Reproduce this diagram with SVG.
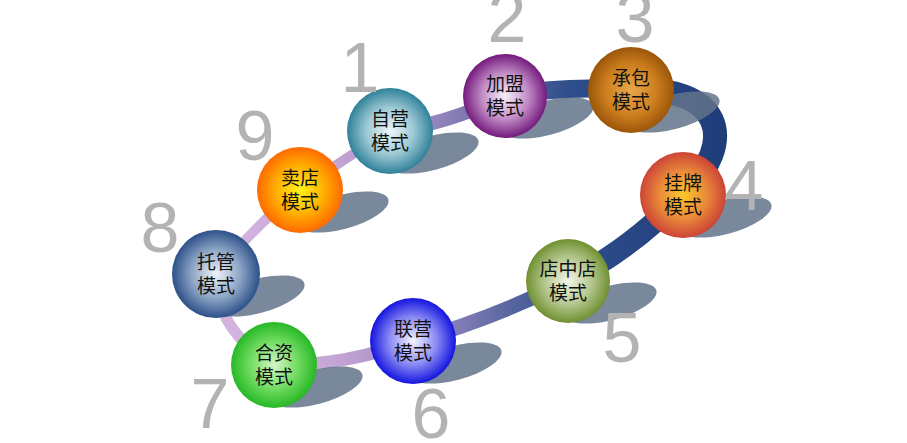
<svg xmlns="http://www.w3.org/2000/svg" width="907" height="443" viewBox="0 0 907 443">
<defs>
<linearGradient id="band" gradientUnits="userSpaceOnUse" x1="200" y1="0" x2="730" y2="0">
<stop offset="0" stop-color="#d8b8e2"/>
<stop offset="0.26" stop-color="#c4a4d4"/>
<stop offset="0.47" stop-color="#8a80b8"/>
<stop offset="0.62" stop-color="#4a5e98"/>
<stop offset="0.7" stop-color="#2e4d8b"/>
<stop offset="1" stop-color="#1d3c78"/>
</linearGradient>
<radialGradient id="g1" cx="0.5" cy="0.5" r="0.5"><stop offset="0" stop-color="#eef6f8"/><stop offset="0.55" stop-color="#9cc8d4"/><stop offset="1" stop-color="#2f8199"/></radialGradient>
<radialGradient id="g2" cx="0.5" cy="0.5" r="0.5"><stop offset="0" stop-color="#f6eef6"/><stop offset="0.55" stop-color="#c28cc6"/><stop offset="1" stop-color="#731a7c"/></radialGradient>
<radialGradient id="g3" cx="0.5" cy="0.5" r="0.5"><stop offset="0" stop-color="#e9a84a"/><stop offset="0.6" stop-color="#cd7e1e"/><stop offset="1" stop-color="#9a560a"/></radialGradient>
<radialGradient id="g4" cx="0.5" cy="0.5" r="0.5"><stop offset="0" stop-color="#f8c82a"/><stop offset="0.55" stop-color="#ea8a3a"/><stop offset="1" stop-color="#cc4436"/></radialGradient>
<radialGradient id="g5" cx="0.5" cy="0.5" r="0.5"><stop offset="0" stop-color="#f2f4e8"/><stop offset="0.55" stop-color="#b6c890"/><stop offset="1" stop-color="#6f9030"/></radialGradient>
<radialGradient id="g6" cx="0.5" cy="0.5" r="0.5"><stop offset="0" stop-color="#f4f4ff"/><stop offset="0.55" stop-color="#8a8af4"/><stop offset="1" stop-color="#1414e0"/></radialGradient>
<radialGradient id="g7" cx="0.5" cy="0.5" r="0.5"><stop offset="0" stop-color="#d4f6c8"/><stop offset="0.55" stop-color="#72dc62"/><stop offset="1" stop-color="#26b826"/></radialGradient>
<radialGradient id="g8" cx="0.5" cy="0.5" r="0.5"><stop offset="0" stop-color="#eef2f8"/><stop offset="0.55" stop-color="#8ea6c6"/><stop offset="1" stop-color="#2c5088"/></radialGradient>
<radialGradient id="g9" cx="0.5" cy="0.5" r="0.5"><stop offset="0" stop-color="#fff21a"/><stop offset="0.55" stop-color="#ffb000"/><stop offset="1" stop-color="#ff6a00"/></radialGradient>
</defs>
<style>
.band{fill:none;stroke:url(#band);stroke-linecap:round}
.sh{fill:#627389;opacity:0.85}
.lbl{font-family:"Noto Sans CJK SC","Noto Sans",sans-serif;font-size:19px;fill:#111;text-anchor:middle}
.num{font-family:"Liberation Sans",Arial,sans-serif;font-size:70px;fill:#b3b3b3;text-anchor:middle}
</style>
<g id="connectors">
<path class="band" stroke-width="10" d="M300,190 Q345,158 390,131"/>
<path class="band" stroke-width="14" d="M390,131 Q445,125 505,96"/>
<path class="band" stroke-width="18" d="M505,96 Q565,85 631,90"/>
<path class="band" stroke-width="24" d="M631,90 C720,85 740,140 683,195"/>
<path class="band" stroke-width="22" d="M683,195 Q630,250 568,281"/>
<path class="band" stroke-width="15" d="M568,281 Q490,320 413,341"/>
<path class="band" stroke-width="13" d="M413,341 Q340,367 274,365"/>
<path class="band" stroke-width="11" d="M274,365 Q215,330 216,274"/>
<path class="band" stroke-width="10" d="M216,274 Q255,225 300,190"/>
</g>
<g id="shadows">
<ellipse class="sh" cx="432" cy="153" rx="48" ry="17" transform="rotate(-15 432 153)"/>
<ellipse class="sh" cx="547" cy="118" rx="48" ry="17" transform="rotate(-15 547 118)"/>
<ellipse class="sh" cx="673" cy="112" rx="48" ry="17" transform="rotate(-15 673 112)"/>
<ellipse class="sh" cx="725" cy="217" rx="48" ry="17" transform="rotate(-15 725 217)"/>
<ellipse class="sh" cx="610" cy="303" rx="48" ry="17" transform="rotate(-15 610 303)"/>
<ellipse class="sh" cx="455" cy="363" rx="48" ry="17" transform="rotate(-15 455 363)"/>
<ellipse class="sh" cx="316" cy="387" rx="48" ry="17" transform="rotate(-15 316 387)"/>
<ellipse class="sh" cx="258" cy="296" rx="48" ry="17" transform="rotate(-15 258 296)"/>
<ellipse class="sh" cx="342" cy="212" rx="48" ry="17" transform="rotate(-15 342 212)"/>
</g>
<g id="n1"><circle cx="390" cy="131" r="43" fill="url(#g1)"/><text class="lbl" x="390" y="126">自营<tspan x="390" dy="24">模式</tspan></text><text class="num" x="360" y="92">1</text></g>
<g id="n2"><circle cx="505" cy="96" r="42" fill="url(#g2)"/><text class="lbl" x="505" y="91">加盟<tspan x="505" dy="24">模式</tspan></text><text class="num" x="507" y="42">2</text></g>
<g id="n3"><circle cx="631" cy="90" r="43" fill="url(#g3)"/><text class="lbl" x="631" y="85">承包<tspan x="631" dy="24">模式</tspan></text><text class="num" x="635" y="42">3</text></g>
<g id="n4"><circle cx="683" cy="195" r="43" fill="url(#g4)"/><text class="lbl" x="683" y="190">挂牌<tspan x="683" dy="24">模式</tspan></text><text class="num" x="744" y="210">4</text></g>
<g id="n5"><circle cx="568" cy="281" r="42" fill="url(#g5)"/><text class="lbl" x="568" y="276">店中店<tspan x="568" dy="24">模式</tspan></text><text class="num" x="622" y="362">5</text></g>
<g id="n6"><circle cx="413" cy="341" r="43" fill="url(#g6)"/><text class="lbl" x="413" y="336">联营<tspan x="413" dy="24">模式</tspan></text><text class="num" x="431" y="438">6</text></g>
<g id="n7"><circle cx="274" cy="365" r="43" fill="url(#g7)"/><text class="lbl" x="274" y="360">合资<tspan x="274" dy="24">模式</tspan></text><text class="num" x="210" y="428">7</text></g>
<g id="n8"><circle cx="216" cy="274" r="44" fill="url(#g8)"/><text class="lbl" x="216" y="269">托管<tspan x="216" dy="24">模式</tspan></text><text class="num" x="160" y="252">8</text></g>
<g id="n9"><circle cx="300" cy="190" r="43" fill="url(#g9)"/><text class="lbl" x="300" y="185">卖店<tspan x="300" dy="24">模式</tspan></text><text class="num" x="255" y="160">9</text></g>
</svg>
